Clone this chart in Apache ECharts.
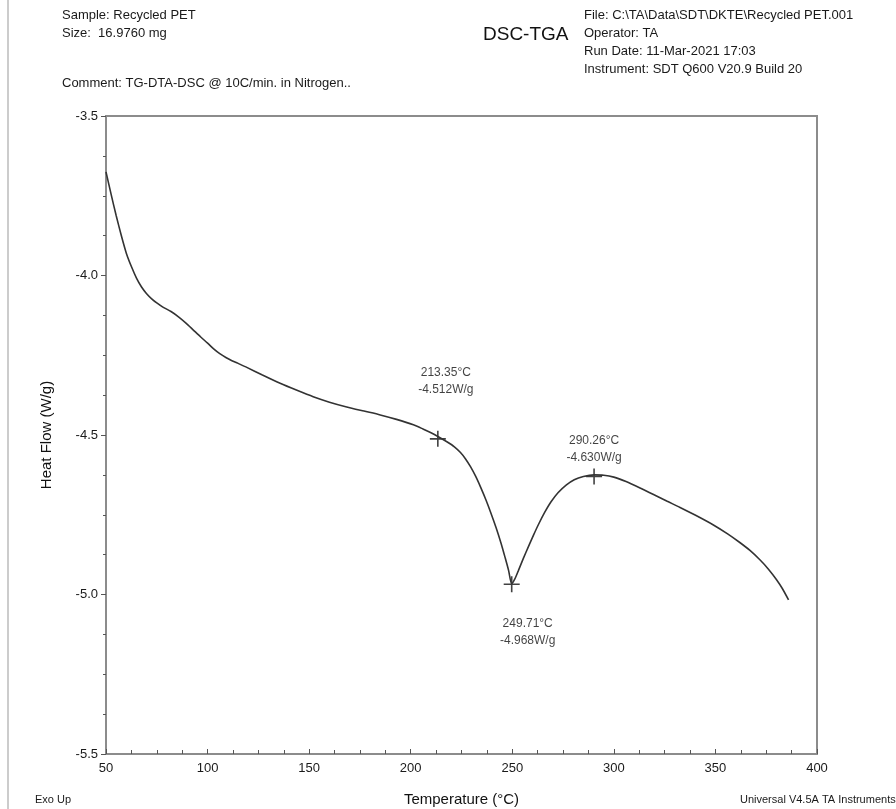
<!DOCTYPE html>
<html>
<head>
<meta charset="utf-8">
<script src="https://cdn.jsdelivr.net/npm/echarts@6/dist/echarts.min.js"></script>
<style>
  html, body { margin: 0; padding: 0; background: #fff; }
  #chart { width: 896px; height: 809px; }
</style>
</head>
<body>
<div id="chart"></div>
<script>
// DSC curve: [temperature °C, heat flow W/g]
var dscCurve = [
  [50, -3.675], [52.5, -3.745], [55, -3.812], [57.5, -3.874], [60, -3.93],
  [62.5, -3.972], [65, -4.008], [67.5, -4.036], [70, -4.057], [72.5, -4.073],
  [75, -4.086], [78, -4.099], [82, -4.113], [86, -4.131], [89.5, -4.15],
  [93, -4.171], [96.5, -4.192], [100, -4.212], [103, -4.23], [106, -4.245],
  [109, -4.257], [112, -4.267], [115.5, -4.277], [119.3, -4.288],
  [127, -4.312], [135.7, -4.338], [144, -4.36], [152, -4.38], [160, -4.397],
  [168.5, -4.412], [177, -4.425], [185, -4.437], [193, -4.451], [201.3, -4.468],
  [206, -4.481], [210, -4.493], [214, -4.507], [218, -4.522], [221.5, -4.537],
  [224.5, -4.555], [227, -4.575], [229.5, -4.6], [232, -4.63], [234.5, -4.665],
  [237, -4.703], [239.5, -4.745], [242, -4.79], [244.5, -4.84], [246.5, -4.885],
  [248.2, -4.925], [249.7, -4.966], [251.2, -4.952], [253, -4.925], [255.5, -4.886],
  [258, -4.849], [260.5, -4.813], [263, -4.779], [266, -4.742], [269, -4.71],
  [272.5, -4.681], [276.5, -4.657], [280.5, -4.64], [285, -4.63], [290.3, -4.625],
  [295, -4.626], [300, -4.632], [306, -4.646], [312.9, -4.666], [320, -4.688],
  [326, -4.707], [332.6, -4.727], [340, -4.751], [349, -4.782], [356, -4.81],
  [362, -4.837], [367, -4.862], [372, -4.892], [376, -4.92], [380, -4.953],
  [383, -4.982], [386, -5.017]
];

// annotated points
var peakTemps = [213.35, 249.71, 290.26];
var peakFlows = [-4.512, -4.968, -4.630];
var peakLabelPos = ['top', 'bottom', 'top'];
var peakLabelOffset = [[8, -28], [16, 18], [0, 3]];

var xTicks = { min: 50, max: 400, interval: 50 };
var yTicks = { min: -5.5, max: -3.5, interval: 0.5 };

var headerLeft = ['Sample: Recycled PET', 'Size:  16.9760 mg'];
var headerComment = 'Comment: TG-DTA-DSC @ 10C/min. in Nitrogen..';
var headerRight = [
  'File: C:\\TA\\Data\\SDT\\DKTE\\Recycled PET.001',
  'Operator: TA',
  'Run Date: 11-Mar-2021 17:03',
  'Instrument: SDT Q600 V20.9 Build 20'
];

var chart = echarts.init(document.getElementById('chart'));
var font = 'Liberation Sans, Arial, sans-serif';
var axisGrey = '#8c8c8c';

var peakData = peakTemps.map(function (t, i) {
  return {
    value: [t, peakFlows[i]],
    label: {
      position: peakLabelPos[i],
      offset: peakLabelOffset[i]
    }
  };
});

function headerText(x, y, txt, size) {
  return {
    type: 'text', left: x, top: y,
    style: { text: txt, font: size + 'px ' + font, fill: '#1a1a1a' }
  };
}

var graphics = [
  { type: 'line', shape: { x1: 8, y1: 0, x2: 8, y2: 809 }, style: { stroke: '#bbb', lineWidth: 1.5 } },
  { type: 'text', left: 483, top: 25, style: { text: 'DSC-TGA', font: '19px ' + font, fill: '#111' } },
  headerText(62, 9, headerLeft[0], 13),
  headerText(62, 27, headerLeft[1], 13),
  headerText(62, 77, headerComment, 13),
  headerText(35, 794, 'Exo Up', 11),
  headerText(740, 794, 'Universal V4.5A TA Instruments', 11)
];
headerRight.forEach(function (t, i) {
  graphics.push(headerText(584, 9 + i * 18, t, 13));
});

chart.setOption({
  animation: false,
  backgroundColor: '#fff',
  graphic: graphics,
  grid: {
    left: 106, right: 79, top: 116, bottom: 55,
    outerBoundsMode: 'none',
    show: true, borderColor: axisGrey, borderWidth: 2
  },
  xAxis: {
    type: 'value',
    min: xTicks.min, max: xTicks.max, interval: xTicks.interval,
    name: 'Temperature (°C)',
    nameLocation: 'middle', nameGap: 38,
    nameTextStyle: { fontFamily: font, fontSize: 15, color: '#111' },
    axisLine: { show: true, lineStyle: { color: axisGrey, width: 2 } },
    axisTick: { show: true, inside: true, length: 5, lineStyle: { color: '#555' } },
    minorTick: { show: true, splitNumber: 4, length: 4, lineStyle: { color: '#555' } },
    splitLine: { show: false },
    axisLabel: { fontFamily: font, fontSize: 13, color: '#1a1a1a', margin: 8 }
  },
  yAxis: {
    type: 'value',
    min: yTicks.min, max: yTicks.max, interval: yTicks.interval,
    name: 'Heat Flow (W/g)',
    nameLocation: 'middle', nameGap: 52,
    nameTextStyle: { fontFamily: font, fontSize: 15, color: '#111' },
    axisLine: { show: true, lineStyle: { color: axisGrey, width: 2 } },
    axisTick: { show: true, length: 5, lineStyle: { color: '#555' } },
    minorTick: { show: true, splitNumber: 4, length: 3, lineStyle: { color: '#555' } },
    splitLine: { show: false },
    axisLabel: {
      fontFamily: font, fontSize: 13, color: '#1a1a1a', margin: 8,
      formatter: function (v) { return v.toFixed(1); }
    }
  },
  series: [
    {
      type: 'line',
      data: dscCurve,
      smooth: 0.25,
      showSymbol: false,
      lineStyle: { color: '#333', width: 1.6 }
    },
    {
      type: 'scatter',
      data: peakData,
      symbol: 'path://M4.5,0H5.5V4.5H10V5.5H5.5V10H4.5V5.5H0V4.5H4.5Z',
      symbolSize: 16,
      itemStyle: { color: '#111' },
      label: {
        show: true,
        align: 'center',
        fontFamily: font, fontSize: 12, color: '#111', lineHeight: 17,
        formatter: function (p) {
          return p.value[0].toFixed(2) + '°C\n' + p.value[1].toFixed(3) + 'W/g';
        }
      }
    }
  ]
});
</script>
</body>
</html>
